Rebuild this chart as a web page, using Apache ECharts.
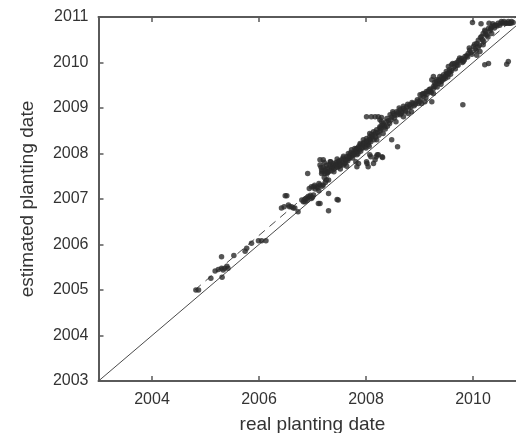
<!DOCTYPE html>
<html>
<head>
<meta charset="utf-8">
<script src="https://cdn.jsdelivr.net/npm/echarts@6/dist/echarts.min.js"></script>
<style>
  html, body { margin: 0; padding: 0; background: #fff; }
  #chart { width: 516px; height: 433px; }
</style>
</head>
<body>
<div id="chart"></div>
<script>
// Real planting date (decimal years) for each field
const realDates = [
  2004.82, 2004.87, 2005.10, 2005.18, 2005.24, 2005.30, 2005.30, 2005.33, 2005.36, 2005.40,
  2005.31, 2005.42, 2005.53, 2005.74, 2005.77, 2005.86, 2005.99, 2006.05, 2006.13,
  2006.42, 2006.47, 2006.49, 2006.52, 2006.55, 2006.57, 2006.61, 2006.64, 2006.67, 2006.73,
  2006.80, 2006.83, 2006.86, 2006.89, 2006.92, 2006.95, 2006.98, 2007.02, 2006.94, 2006.98,
  2007.02, 2007.08, 2007.14, 2007.20, 2007.11, 2007.14, 2006.91, 2007.14, 2007.17, 2007.17,
  2007.14, 2007.20, 2007.23, 2007.27, 2007.30, 2007.33, 2007.33, 2007.36, 2007.39, 2007.42,
  2007.45, 2007.48, 2007.51, 2007.55, 2007.58, 2007.61, 2007.64, 2007.67, 2007.70, 2007.73,
  2007.76, 2007.79, 2007.83, 2007.86, 2007.89, 2007.92, 2007.95, 2007.98, 2008.01, 2008.04,
  2008.07, 2007.81, 2007.83, 2007.86, 2008.02, 2008.04, 2008.07, 2008.21, 2008.17, 2008.14,
  2007.48, 2007.30, 2007.30, 2007.30, 2007.46, 2007.67, 2007.83, 2008.20, 2008.32, 2008.01,
  2008.19, 2008.23, 2008.09, 2008.30, 2008.31,
  2008.01, 2008.10, 2008.17, 2008.23, 2008.29, 2008.26, 2007.89, 2008.01, 2008.07, 2008.14,
  2008.20, 2008.26, 2008.29, 2008.32, 2008.39, 2008.45, 2008.51, 2008.57, 2008.64, 2008.70,
  2008.76, 2008.82, 2008.64, 2008.70, 2008.79, 2008.85, 2008.88, 2008.95, 2009.04, 2009.10,
  2009.23, 2009.10, 2009.16, 2009.26, 2009.29, 2009.35, 2009.41, 2009.45, 2009.51, 2009.54,
  2009.26, 2009.23, 2009.32, 2008.48, 2008.59, 2007.83, 2007.76, 2007.95, 2008.07, 2008.35,
  2009.81,
  2009.20, 2009.26, 2009.32, 2009.38, 2009.45, 2009.51, 2009.57, 2009.54, 2009.60, 2009.66,
  2009.73, 2009.79, 2009.85, 2009.91, 2009.94, 2010.01, 2010.07, 2010.10, 2010.16, 2010.19,
  2010.22, 2010.29, 2010.35, 2010.41, 2010.47, 2010.53, 2010.60, 2010.66, 2010.72, 2009.99,
  2010.15, 2009.82, 2009.70, 2010.19, 2010.13, 2010.07, 2010.26, 2010.35, 2010.22, 2010.29,
  2010.66, 2010.63, 2009.13, 2009.07, 2009.26, 2009.01, 2009.38, 2009.48, 2009.60, 2010.30,
  2010.37, 2010.43, 2010.56, 2010.62, 2010.71,
  2007.25, 2007.38, 2007.44, 2007.50, 2007.56, 2007.62, 2007.68, 2007.74, 2007.80, 2007.88,
  2007.93, 2008.00, 2008.05, 2008.10, 2008.16, 2008.22, 2008.28, 2008.34, 2008.42, 2008.48,
  2008.54, 2008.60, 2008.67, 2008.73, 2008.80, 2008.90, 2008.98, 2009.02, 2009.08, 2009.14,
  2009.20, 2009.30, 2009.36, 2009.42, 2009.48, 2009.56, 2009.64, 2009.70, 2009.76, 2009.88,
  2009.96, 2010.04, 2010.12, 2010.18, 2010.24, 2010.32, 2010.40, 2010.50, 2010.66, 2010.75,
  2006.86, 2006.90, 2006.96, 2007.00, 2007.05, 2007.10, 2007.04, 2007.12, 2007.18, 2007.24,
  2007.26, 2007.22, 2007.18, 2007.20, 2007.24, 2007.26, 2007.28, 2007.31, 2007.35, 2007.37,
  2007.40, 2007.43, 2007.47, 2007.50, 2007.53, 2007.57, 2007.60, 2007.63, 2007.66, 2007.70,
  2007.72, 2007.75, 2007.78, 2007.82, 2007.85, 2007.87, 2007.90, 2007.94, 2007.97, 2008.00,
  2008.03, 2008.06, 2008.09, 2008.12, 2008.15, 2008.18, 2008.24, 2008.27, 2008.30, 2008.36,
  2008.38, 2008.44, 2008.47, 2008.50, 2008.53, 2008.58, 2008.62, 2008.66, 2008.70, 2008.74,
  2008.78, 2008.84, 2008.86, 2008.92, 2008.96, 2009.00, 2009.05, 2009.12, 2009.18, 2009.22,
  2009.28, 2009.33, 2009.40, 2009.44, 2009.50, 2009.53, 2009.58, 2009.62, 2009.67, 2009.72,
  2009.75, 2009.80, 2009.84, 2009.90, 2009.93, 2009.98, 2010.03, 2010.06, 2010.10, 2010.14,
  2010.20, 2010.23, 2010.28, 2010.33, 2010.38, 2010.45, 2010.52, 2010.58, 2010.68,
  2007.12, 2007.16, 2007.22, 2007.28, 2007.34, 2007.40, 2007.46, 2007.52, 2007.58, 2007.64,
  2008.10, 2008.18, 2008.26, 2008.40, 2008.56
];

// Estimated planting date (decimal years), same order as realDates
const estimatedDates = [
  2005.00, 2005.00, 2005.26, 2005.42, 2005.45, 2005.48, 2005.73, 2005.44, 2005.48, 2005.52,
  2005.28, 2005.48, 2005.76, 2005.85, 2005.92, 2006.03, 2006.08, 2006.08, 2006.08,
  2006.80, 2006.83, 2007.07, 2007.07, 2006.87, 2006.83, 2006.83, 2006.80, 2006.80, 2006.72,
  2006.98, 2006.94, 2006.94, 2007.01, 2007.05, 2007.05, 2007.01, 2007.09, 2007.23, 2007.27,
  2007.27, 2007.27, 2007.31, 2007.31, 2006.90, 2006.90, 2007.56, 2007.75, 2007.64, 2007.56,
  2007.86, 2007.86, 2007.56, 2007.56, 2007.60, 2007.71, 2007.82, 2007.67, 2007.78, 2007.71,
  2007.75, 2007.82, 2007.78, 2007.86, 2007.75, 2007.86, 2007.93, 2008.00, 2007.97, 2008.08,
  2008.00, 2008.11, 2008.04, 2008.15, 2008.19, 2008.11, 2008.22, 2008.15, 2008.26, 2008.19,
  2008.30, 2007.82, 2007.71, 2007.78, 2007.78, 2007.71, 2007.97, 2007.97, 2007.86, 2007.78,
  2006.98, 2006.74, 2007.42, 2007.12, 2006.99, 2007.89, 2007.97, 2008.30, 2008.44, 2007.82,
  2007.93, 2007.97, 2007.93, 2007.93, 2007.91,
  2008.81, 2008.81, 2008.81, 2008.81, 2008.79, 2008.74, 2008.22, 2008.33, 2008.44, 2008.48,
  2008.52, 2008.59, 2008.70, 2008.66, 2008.77, 2008.85, 2008.88, 2008.92, 2008.96, 2008.99,
  2009.03, 2009.07, 2008.85, 2008.81, 2008.88, 2008.92, 2009.10, 2009.14, 2009.10, 2009.14,
  2009.14, 2009.32, 2009.36, 2009.43, 2009.47, 2009.54, 2009.58, 2009.65, 2009.73, 2009.76,
  2009.69, 2009.62, 2009.62, 2008.30, 2008.15, 2008.11, 2008.00, 2008.30, 2008.37, 2008.58,
  2009.07,
  2009.36, 2009.47, 2009.58, 2009.69, 2009.73, 2009.76, 2009.80, 2009.91, 2009.95, 2009.98,
  2010.05, 2010.09, 2010.13, 2010.20, 2010.27, 2010.35, 2010.42, 2010.49, 2010.57, 2010.64,
  2010.71, 2010.75, 2010.78, 2010.82, 2010.86, 2010.90, 2010.86, 2010.90, 2010.90, 2010.88,
  2010.85, 2010.02, 2009.95, 2010.39, 2010.24, 2010.16, 2010.60, 2010.64, 2009.95, 2009.98,
  2010.02, 2009.96, 2009.36, 2009.32, 2009.32, 2009.29, 2009.58, 2009.65, 2009.82, 2010.86,
  2010.85, 2010.82, 2010.87, 2010.86, 2010.86,
  2007.66, 2007.73, 2007.80, 2007.72, 2007.80, 2007.80, 2007.93, 2007.95, 2008.05, 2008.08,
  2008.18, 2008.20, 2008.24, 2008.34, 2008.42, 2008.46, 2008.55, 2008.62, 2008.72, 2008.80,
  2008.84, 2008.90, 2008.92, 2008.95, 2009.00, 2009.05, 2009.10, 2009.20, 2009.26, 2009.30,
  2009.42, 2009.52, 2009.62, 2009.68, 2009.70, 2009.84, 2009.90, 2010.00, 2010.05, 2010.15,
  2010.22, 2010.30, 2010.38, 2010.50, 2010.62, 2010.70, 2010.76, 2010.82, 2010.86, 2010.88,
  2007.00, 2006.97, 2007.08, 2007.04, 2007.22, 2007.24, 2007.30, 2007.34, 2007.28, 2007.36,
  2007.42, 2007.47, 2007.60, 2007.70, 2007.62, 2007.74, 2007.66, 2007.76, 2007.62, 2007.70,
  2007.66, 2007.76, 2007.70, 2007.84, 2007.74, 2007.90, 2007.78, 2007.86, 2007.84, 2007.90,
  2008.02, 2007.90, 2007.98, 2008.10, 2008.00, 2008.12, 2008.05, 2008.14, 2008.25, 2008.12,
  2008.28, 2008.16, 2008.26, 2008.38, 2008.30, 2008.46, 2008.40, 2008.50, 2008.62, 2008.54,
  2008.70, 2008.66, 2008.74, 2008.92, 2008.78, 2008.86, 2009.00, 2008.88, 2009.04, 2008.92,
  2009.08, 2009.02, 2009.12, 2009.08, 2009.18, 2009.14, 2009.30, 2009.22, 2009.40, 2009.34,
  2009.56, 2009.46, 2009.52, 2009.62, 2009.80, 2009.68, 2009.74, 2009.98, 2009.86, 2009.94,
  2010.10, 2010.00, 2010.06, 2010.12, 2010.32, 2010.18, 2010.40, 2010.26, 2010.34, 2010.55,
  2010.46, 2010.68, 2010.56, 2010.74, 2010.80, 2010.80, 2010.86, 2010.90, 2010.86,
  2007.18, 2007.70, 2007.80, 2007.58, 2007.82, 2007.60, 2007.88, 2007.66, 2007.94, 2007.72,
  2008.42, 2008.36, 2008.56, 2008.60, 2008.70
];

// Axis ranges and tick values
const xRange = [2003, 2011];
const yRange = [2003, 2011];
const xTickValues = [2004, 2006, 2008, 2010];
// Identity line (estimated = real) and the offset fitted line (dashed)
const identityLine = [[2003, 2003], [2011, 2011]];
const fitOffset = 0.2;
const fitRange = [2004.8, 2011];

const points = realDates.map((r, i) => [r, estimatedDates[i]]);
const fitLine = fitRange.map(x => [x, x + fitOffset]);

const textColor = '#333';
const axisColor = '#5a5a5a';
const font = 'Liberation Sans, Arial, sans-serif';

const chart = echarts.init(document.getElementById('chart'), null, { renderer: 'canvas' });

const xAxisBase = {
  type: 'value',
  min: xRange[0],
  max: xRange[1],
  splitLine: { show: false },
  axisLine: { show: true, onZero: false, lineStyle: { color: axisColor, width: 2 } },
  axisTick: { show: true, inside: true, length: 5, customValues: xTickValues,
              lineStyle: { color: axisColor, width: 1.5 } }
};

chart.setOption({
  animation: false,
  backgroundColor: '#fff',
  grid: { left: 98.5, top: 17, bottom: 52, right: -10.5, containLabel: false,
          outerBoundsMode: 'none' },
  xAxis: [
    Object.assign({}, xAxisBase, {
      position: 'bottom',
      name: 'real planting date',
      nameLocation: 'middle',
      nameGap: 34,
      nameTextStyle: { color: textColor, fontSize: 19, fontFamily: font },
      axisLabel: { show: true, margin: 11, color: textColor, fontSize: 16, fontFamily: font,
                   customValues: xTickValues, formatter: v => String(v) }
    }),
    Object.assign({}, xAxisBase, {
      position: 'top',
      axisLabel: { show: false }
    })
  ],
  yAxis: {
    type: 'value',
    min: yRange[0],
    max: yRange[1],
    interval: 1,
    name: 'estimated planting date',
    nameLocation: 'middle',
    nameGap: 61,
    nameTextStyle: { color: textColor, fontSize: 19, fontFamily: font },
    splitLine: { show: false },
    axisLine: { show: true, onZero: false, lineStyle: { color: axisColor, width: 2 } },
    axisTick: { show: true, inside: true, length: 5, lineStyle: { color: axisColor, width: 1.5 } },
    axisLabel: { margin: 10, color: textColor, fontSize: 16, fontFamily: font,
                 formatter: v => String(v) }
  },
  series: [
    {
      type: 'line',
      data: identityLine,
      showSymbol: false,
      symbol: 'none',
      lineStyle: { color: '#4a4a4a', width: 1 },
      z: 1
    },
    {
      type: 'line',
      data: fitLine,
      showSymbol: false,
      symbol: 'none',
      lineStyle: { color: '#4a4a4a', width: 1, type: [8, 6] },
      z: 1
    },
    {
      type: 'scatter',
      data: points,
      symbol: 'circle',
      symbolSize: 5.5,
      itemStyle: { color: '#2b2b2b' },
      z: 3
    }
  ]
});
</script>
</body>
</html>
